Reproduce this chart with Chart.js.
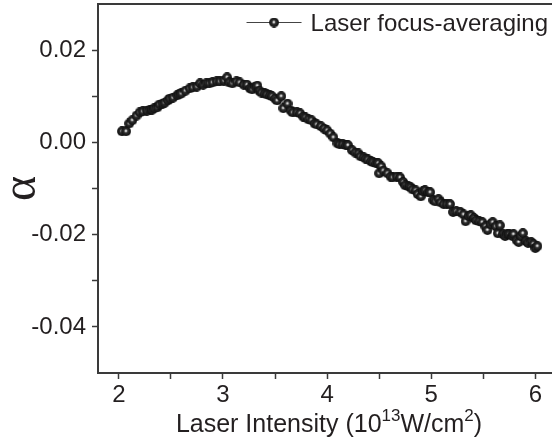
<!DOCTYPE html>
<html>
<head>
<meta charset="utf-8">
<script src="https://cdn.jsdelivr.net/npm/chart.js@4.4.1/dist/chart.umd.min.js"></script>
<style>
  html, body { margin: 0; padding: 0; background: #fff; }
  #wrap { width: 552px; height: 444px; }
</style>
</head>
<body>
<div id="wrap"><canvas id="c" width="552" height="444"></canvas></div>
<script>
// ---- data ----
const seriesName = "Laser focus-averaging";
const xTitleParts = [["Laser Intensity (10", false], ["13", true], ["W/cm", false], ["2", true], [")", false]];
const yTitle = "α";
const intensity = [
  2.03, 2.07, 2.10, 2.13, 2.17, 2.20, 2.23, 2.27, 2.30, 2.32, 2.34, 2.37, 2.39, 2.42, 2.44, 2.47,
  2.49, 2.52, 2.56, 2.58, 2.60, 2.64, 2.68, 2.71, 2.75, 2.78, 2.81, 2.84, 2.87, 2.90, 2.94, 2.97,
  3.01, 3.04, 3.06, 3.09, 3.13, 3.16, 3.20, 3.23, 3.26, 3.28, 3.31, 3.33, 3.35, 3.37, 3.40, 3.42,
  3.45, 3.47, 3.50, 3.52, 3.56, 3.58, 3.62, 3.65, 3.67, 3.71, 3.74, 3.77, 3.79, 3.82, 3.85, 3.88,
  3.90, 3.94, 3.97, 4.00, 4.03, 4.06, 4.10, 4.12, 4.15, 4.18, 4.20, 4.24, 4.27, 4.30, 4.32, 4.35,
  4.37, 4.39, 4.42, 4.44, 4.47, 4.49, 4.52, 4.50, 4.54, 4.58, 4.61, 4.63, 4.67, 4.70, 4.73, 4.75,
  4.78, 4.80, 4.82, 4.85, 4.87, 4.90, 4.92, 4.94, 4.97, 4.99, 5.02, 5.04, 5.07, 5.09, 5.12, 5.15,
  5.18, 5.21, 5.24, 5.28, 5.31, 5.33, 5.36, 5.38, 5.41, 5.43, 5.46, 5.49, 5.52, 5.54, 5.57, 5.59,
  5.62, 5.64, 5.66, 5.69, 5.71, 5.73, 5.75, 5.78, 5.79, 5.82, 5.84, 5.86, 5.88, 5.91, 5.93, 5.96,
  5.98, 6.00, 6.02
];
const alpha = [
  0.0024, 0.0024, 0.0041, 0.0048, 0.0058, 0.0065, 0.0067, 0.0069, 0.0071, 0.0071, 0.0074, 0.0076, 0.0082, 0.0084, 0.0086, 0.0091,
  0.0095, 0.0097, 0.0102, 0.0104, 0.0106, 0.0112, 0.0117, 0.0119, 0.0121, 0.0128, 0.0125, 0.0128, 0.0128, 0.0130, 0.0132, 0.0132,
  0.0134, 0.0141, 0.0130, 0.0128, 0.0132, 0.0130, 0.0125, 0.0125, 0.0117, 0.0115, 0.0121, 0.0123, 0.0112, 0.0108, 0.0106, 0.0104,
  0.0102, 0.0100, 0.0095, 0.0091, 0.0100, 0.0074, 0.0084, 0.0069, 0.0065, 0.0065, 0.0063, 0.0056, 0.0054, 0.0050, 0.0048, 0.0041,
  0.0039, 0.0035, 0.0030, 0.0026, 0.0019, 0.0011, -0.0002, -0.0004, -0.0004, -0.0006, -0.0006, -0.0017, -0.0022, -0.0024, -0.0030, -0.0032,
  -0.0035, -0.0037, -0.0041, -0.0043, -0.0045, -0.0045, -0.0052, -0.0067, -0.0061, -0.0067, -0.0074, -0.0076, -0.0074, -0.0076, -0.0086, -0.0093,
  -0.0095, -0.0097, -0.0102, -0.0104, -0.0112, -0.0117, -0.0106, -0.0104, -0.0108, -0.0108, -0.0125, -0.0128, -0.0123, -0.0130, -0.0134, -0.0134,
  -0.0134, -0.0151, -0.0149, -0.0151, -0.0156, -0.0171, -0.0160, -0.0158, -0.0164, -0.0169, -0.0171, -0.0173, -0.0182, -0.0190, -0.0177, -0.0173,
  -0.0182, -0.0197, -0.0180, -0.0199, -0.0203, -0.0199, -0.0199, -0.0203, -0.0199, -0.0212, -0.0216, -0.0203, -0.0197, -0.0214, -0.0218, -0.0216,
  -0.0220, -0.0229, -0.0225
];
const xMajorTicks = [2, 3, 4, 5, 6];
const xMinorTicks = [2.5, 3.5, 4.5, 5.5];
const yMajorTicks = [0.02, 0.00, -0.02, -0.04];
const yMinorTicks = [0.01, -0.01, -0.03];

// ---- styling ----
const INK = '#231f20';
const AXIS = '#3a3a3a';
const FONT = "'Liberation Sans', Arial, Helvetica, sans-serif";

function makeSphere(d) {
  const c = document.createElement('canvas');
  c.width = d; c.height = d;
  const g = c.getContext('2d');
  const r = d / 2;
  const grad = g.createRadialGradient(r * 0.95, r * 0.9, 0, r, r, r);
  grad.addColorStop(0, '#ffffff');
  grad.addColorStop(0.14, '#dcdcdc');
  grad.addColorStop(0.38, '#303030');
  grad.addColorStop(1, '#0c0c0c');
  g.fillStyle = grad;
  g.beginPath(); g.arc(r, r, r - 0.1, 0, Math.PI * 2); g.fill();
  return c;
}
const sphere = makeSphere(10);

const points = intensity.map((x, i) => ({ x: x, y: alpha[i] }));

function near(v, list) { return list.some(t => Math.abs(t - v) < 1e-6); }
function zeroPad(s) { s.paddingTop = 0; s.paddingBottom = 0; s.paddingLeft = 0; s.paddingRight = 0; }

const textPlugin = {
  id: 'insetText',
  afterDraw(chart) {
    const { ctx, chartArea } = chart;
    ctx.save();
    // legend (inside the plot, top-right)
    ctx.font = "24px " + FONT;
    ctx.fillStyle = INK;
    ctx.textBaseline = 'middle';
    ctx.textAlign = 'left';
    const w = ctx.measureText(seriesName).width;
    const tx = chartArea.right - 4 - w;
    ctx.fillText(seriesName, tx, 24);
    const x1 = tx - 9, x0 = x1 - 55, yy = 22;
    ctx.strokeStyle = '#444';
    ctx.lineWidth = 1;
    ctx.beginPath(); ctx.moveTo(x0, yy + 0.5); ctx.lineTo(x1, yy + 0.5); ctx.stroke();
    ctx.drawImage(sphere, (x0 + x1) / 2 - 5, yy - 4.5);

    // x-axis title with superscripts
    ctx.textBaseline = 'alphabetic';
    const mainFont = "25px " + FONT, supFont = "17px " + FONT;
    let total = 0;
    xTitleParts.forEach(([t, sup]) => { ctx.font = sup ? supFont : mainFont; total += ctx.measureText(t).width; });
    const cx = 329;
    let x = cx - total / 2;
    const base = 432;
    xTitleParts.forEach(([t, sup]) => {
      ctx.font = sup ? supFont : mainFont;
      ctx.fillText(t, x, sup ? base - 11 : base);
      x += ctx.measureText(t).width;
    });
    ctx.restore();
  }
};

new Chart(document.getElementById('c'), {
  type: 'scatter',
  data: {
    datasets: [{
      label: seriesName,
      data: points,
      showLine: true,
      borderColor: '#444',
      borderWidth: 1,
      pointStyle: sphere,
      pointRadius: 5,
      pointHoverRadius: 5
    }]
  },
  plugins: [textPlugin],
  options: {
    responsive: false,
    animation: false,
    devicePixelRatio: 1,
    layout: { padding: 0, autoPadding: false },
    plugins: { legend: { display: false }, tooltip: { enabled: false } },
    scales: {
      x: {
        type: 'linear',
        position: 'bottom',
        min: 1.8,
        max: 6.16,
        afterBuildTicks(s) { s.ticks = xMajorTicks.concat(xMinorTicks).sort((a, b) => a - b).map(v => ({ value: v })); },
        afterFit(s) { s.height = 71; zeroPad(s); },
        ticks: {
          autoSkip: false,
          maxRotation: 0,
          padding: 2,
          color: INK,
          font: { family: FONT, size: 24 },
          callback: (v) => near(v, xMajorTicks) ? String(Math.round(v)) : ''
        },
        grid: { drawOnChartArea: false, tickLength: 6, tickColor: AXIS, tickWidth: 1.5 },
        border: { display: true, color: AXIS, width: 2 },
        title: { display: false }
      },
      xTop: {
        type: 'linear',
        position: 'top',
        min: 1.8,
        max: 6.16,
        afterBuildTicks(s) { s.ticks = []; },
        afterFit(s) { s.height = 4; zeroPad(s); },
        ticks: { display: false },
        grid: { drawOnChartArea: false, drawTicks: false },
        border: { display: true, color: AXIS, width: 2 }
      },
      y: {
        type: 'linear',
        position: 'left',
        min: -0.05,
        max: 0.03,
        afterBuildTicks(s) { s.ticks = yMajorTicks.concat(yMinorTicks).sort((a, b) => a - b).map(v => ({ value: v })); },
        afterFit(s) { s.width = 98; zeroPad(s); },
        ticks: {
          autoSkip: false,
          padding: 6,
          color: INK,
          font: { family: FONT, size: 24 },
          callback: (v) => near(v, yMajorTicks) ? v.toFixed(2) : ''
        },
        grid: { drawOnChartArea: false, tickLength: 6, tickColor: AXIS, tickWidth: 1.5 },
        border: { display: true, color: AXIS, width: 2 },
        title: {
          display: true,
          text: yTitle,
          color: INK,
          font: { family: "'Liberation Serif', 'DejaVu Serif', serif", size: 48, lineHeight: 1 },
          padding: { top: -2, bottom: 0 }
        }
      }
    }
  }
});
</script>
</body>
</html>
